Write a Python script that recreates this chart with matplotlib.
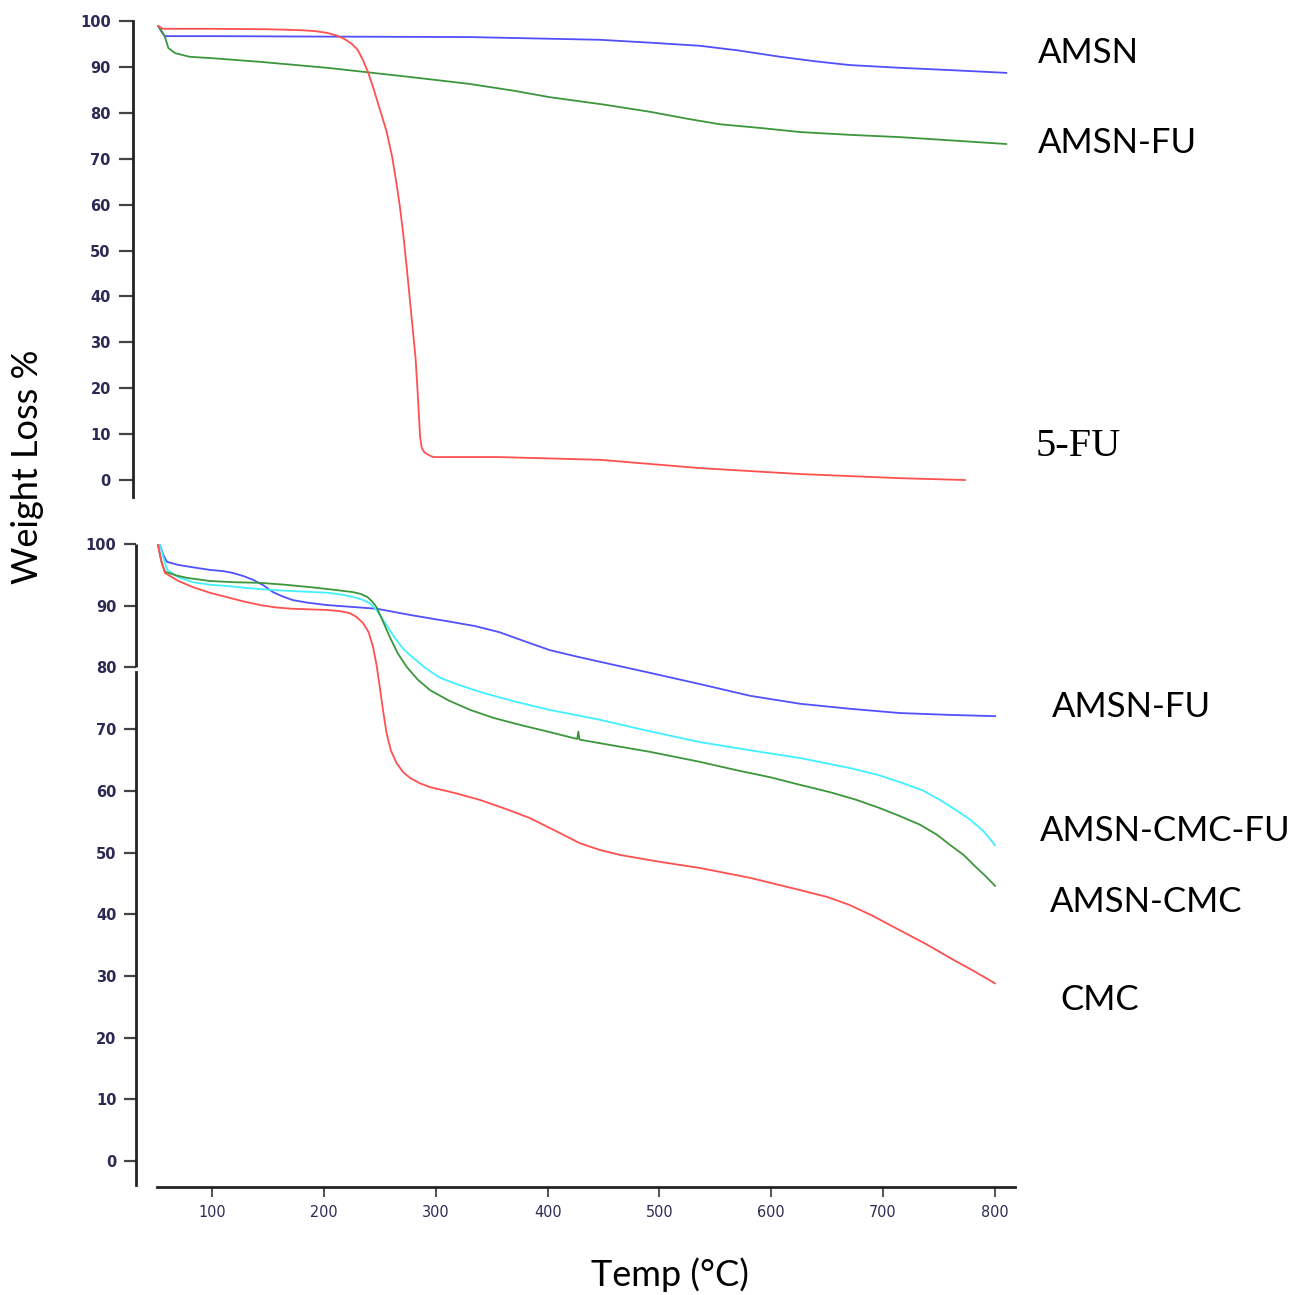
import matplotlib
matplotlib.use("Agg")
import matplotlib.pyplot as plt
from matplotlib import font_manager

# ---------------- data ----------------
top_amsn_T = [52, 55, 58, 100, 200, 330, 447, 490, 536, 570, 608, 640, 670, 715, 760, 810]
top_amsn_W = [98.9, 97.6, 96.7, 96.7, 96.6, 96.5, 95.9, 95.3, 94.6, 93.6, 92.2, 91.2, 90.4,
              89.8, 89.3, 88.7]

top_amsnfu_T = [52, 55, 58, 61, 67, 80, 100, 143, 203, 277, 330, 370, 402, 450, 492, 525,
                554, 590, 626, 670, 715, 760, 810]
top_amsnfu_W = [98.9, 97.8, 96.5, 94.1, 93.0, 92.2, 91.9, 91.1, 89.8, 87.8, 86.3, 84.8, 83.4,
                81.8, 80.2, 78.7, 77.5, 76.7, 75.8, 75.2, 74.7, 74.0, 73.2]

top_5fu_T = [52, 56, 100, 150, 179, 192, 203, 212, 219, 225, 230, 235, 240, 245, 250, 256,
             261, 265, 268, 271, 274, 277, 280, 282, 284, 286, 287.5, 290, 294, 298, 357,
             447, 536, 626, 715, 773]
top_5fu_W = [98.9, 98.3, 98.3, 98.2, 98.0, 97.8, 97.4, 96.8, 96.0, 95.0, 93.8, 91.5, 88.5,
             84.8, 80.8, 76.0, 70.5, 64.5, 59.5, 53.5, 46.5, 39.0, 31.5, 26.5, 18.5, 9.5,
             7.0, 6.0, 5.4, 5.0, 5.0, 4.4, 2.6, 1.3, 0.4, 0.0]

bot_amsnfu_T = [53.5, 56.5, 59.8, 70, 80, 98, 110, 118.8, 128, 136.7, 146, 154.5, 163,
                172.4, 185, 202.8, 225, 247.5, 277, 313, 335, 357, 380, 402, 425, 447,
                492, 536, 581, 626, 670, 715, 760, 800]
bot_amsnfu_W = [99.8, 98.2, 97.1, 96.6, 96.3, 95.8, 95.6, 95.3, 94.8, 94.2, 93.3, 92.2,
                91.5, 90.9, 90.5, 90.1, 89.8, 89.5, 88.5, 87.4, 86.7, 85.7, 84.2, 82.8,
                81.8, 80.9, 79.1, 77.3, 75.4, 74.1, 73.3, 72.6, 72.3, 72.1]

bot_amsncmc_T = [51.7, 55, 58, 68, 78, 98, 120, 143, 165, 188, 208, 226, 233, 239, 243,
                 247, 252, 259, 266, 274, 284, 295, 312, 331, 352, 375, 400, 426.5, 427.5,
                 428.5, 460, 492, 536, 570, 599, 625, 652, 675, 697, 715, 733, 748, 760,
                 772, 782, 792, 800]
bot_amsncmc_W = [99.8, 97, 95.5, 94.9, 94.5, 94.0, 93.8, 93.7, 93.4, 93.0, 92.6, 92.2,
                 91.9, 91.4, 90.7, 89.8, 87.8, 84.9, 82.3, 80.1, 78.0, 76.3, 74.6, 73.1,
                 71.8, 70.7, 69.6, 68.4, 69.6, 68.3, 67.3, 66.3, 64.7, 63.3, 62.2, 61.0,
                 59.8, 58.6, 57.2, 55.9, 54.5, 52.9, 51.2, 49.6, 47.8, 46.1, 44.6]

bot_amsncmcfu_T = [53.5, 57, 60, 70, 83, 98, 113, 135, 158, 180, 203, 216, 226, 234, 241,
                   247, 253, 259, 265, 271, 277, 290, 304, 320, 340, 370, 402, 425, 447,
                   490, 536, 580, 626, 670, 695, 715, 735, 751, 765, 778, 790, 800]
bot_amsncmcfu_W = [99.8, 97.5, 95.8, 94.6, 93.8, 93.4, 93.2, 92.8, 92.5, 92.3, 92.1, 91.8,
                   91.4, 91.0, 90.4, 89.3, 87.7, 86.0, 84.4, 83.0, 82.0, 80.0, 78.3, 77.2,
                   76.0, 74.5, 73.1, 72.3, 71.5, 69.7, 67.9, 66.6, 65.3, 63.7, 62.6, 61.4,
                   60.1, 58.5, 56.9, 55.3, 53.4, 51.2]

bot_cmc_T = [51.7, 55, 58, 70, 83, 98, 113, 128, 143, 158, 172, 188, 203, 215, 223, 229,
             235, 240, 244, 247, 250, 253, 256, 260, 265, 271, 277, 286, 295, 318, 340,
             362, 384, 405, 429, 447, 465, 500, 536, 581, 626, 650, 670, 690, 715, 738,
             760, 780, 800]
bot_cmc_W = [99.8, 97, 95.3, 94.0, 93.0, 92.1, 91.4, 90.7, 90.1, 89.7, 89.5, 89.4, 89.3,
             89.1, 88.8, 88.2, 87.2, 85.7, 83.3, 80.5, 76.8, 72.9, 69.4, 66.5, 64.5, 63.0,
             62.1, 61.2, 60.6, 59.6, 58.5, 57.1, 55.6, 53.7, 51.5, 50.4, 49.6, 48.5, 47.5,
             45.9, 43.9, 42.8, 41.5, 39.8, 37.4, 35.2, 32.9, 30.9, 28.8]

x_ticks = [100, 200, 300, 400, 500, 600, 700, 800]
y_ticks = [0, 10, 20, 30, 40, 50, 60, 70, 80, 90, 100]

# ---------------- style ----------------
W_PX, H_PX = 1296, 1295
fig = plt.figure(figsize=(W_PX / 100, H_PX / 100), dpi=100)

avail = {f.name for f in font_manager.fontManager.ttflist}
label_font = "Lato" if "Lato" in avail else "DejaVu Sans"

BLUE = "#5050ff"
RED = "#ff5050"
GREEN = "#3c963c"
CYAN = "#40f0ff"
SPINE = "#222222"
TICKC = "#2a2a55"
LW = 1.3

def px_to_fig(x, y):
    return x / W_PX, 1 - y / H_PX

# x scale: 100 C at 212 px, 800 C at 995 px
def px_to_T(x):
    return 100 + (x - 212) / 1.1186

x1 = px_to_T(1015)

# ---------- top axes ----------
top_b = 1 - 497 / H_PX
top_t = 1 - 16.4 / H_PX
ax1 = fig.add_axes([133 / W_PX, top_b, (1015 - 133) / W_PX, top_t - top_b])
ax1.plot(top_amsn_T, top_amsn_W, color=BLUE, lw=LW)
ax1.plot(top_amsnfu_T, top_amsnfu_W, color=GREEN, lw=LW)
ax1.plot(top_5fu_T, top_5fu_W, color=RED, lw=LW)
ax1.set_xlim(px_to_T(133), x1)
ax1.set_ylim(-3.7, 101)
for s in ["top", "right", "bottom"]:
    ax1.spines[s].set_visible(False)
ax1.spines["left"].set_bounds(-3.7, 100)
ax1.spines["left"].set_linewidth(2.0)
ax1.spines["left"].set_color(SPINE)
ax1.set_xticks([])
ax1.set_yticks(y_ticks)
ax1.set_yticklabels([str(v) for v in y_ticks], fontsize=10.5, fontweight="heavy",
                    color=TICKC, family="DejaVu Sans")
ax1.tick_params(axis="y", length=10, width=1.6, color="#444444", pad=6)
ax1.patch.set_alpha(0)

# ---------- bottom axes ----------
bot_b = 1 - 1187 / H_PX
bot_t = 1 - 537.8 / H_PX
ax2 = fig.add_axes([136 / W_PX, bot_b, (1015 - 136) / W_PX, bot_t - bot_b])
ax2.plot(bot_amsnfu_T, bot_amsnfu_W, color=BLUE, lw=LW)
ax2.plot(bot_amsncmcfu_T, bot_amsncmcfu_W, color=CYAN, lw=LW)
ax2.plot(bot_amsncmc_T, bot_amsncmc_W, color=GREEN, lw=LW)
ax2.plot(bot_cmc_T, bot_cmc_W, color=RED, lw=LW)
ax2.set_xlim(px_to_T(136), x1)
ax2.set_ylim(-4.2, 101)
for s in ["top", "right"]:
    ax2.spines[s].set_visible(False)
ax2.spines["left"].set_bounds(-3.9, 79.3)
ax2.spines["bottom"].set_bounds(px_to_T(157), x1)
for s in ["left", "bottom"]:
    ax2.spines[s].set_linewidth(2.0)
    ax2.spines[s].set_color(SPINE)
ax2.plot([0, 0], [80, 100], transform=ax2.get_yaxis_transform(), color=SPINE,
         lw=2.0, clip_on=False, solid_capstyle="butt")
ax2.set_yticks(y_ticks)
ax2.set_yticklabels([str(v) for v in y_ticks], fontsize=10.5, fontweight="bold",
                    color=TICKC, family="DejaVu Sans")
ax2.tick_params(axis="y", length=9, width=1.6, color="#444444", pad=5)
ax2.set_xticks(x_ticks)
ax2.set_xticklabels([str(v) for v in x_ticks], fontsize=11.5, color=TICKC,
                    family="DejaVu Sans", fontstretch="condensed")
ax2.tick_params(axis="x", length=7, width=1.3, color="#444444", pad=6)
ax2.patch.set_alpha(0)

# ---------- texts ----------
lab = dict(family=label_font, fontsize=25, color="black", va="center", ha="left")
fig.text(*px_to_fig(1038, 53), "AMSN", **lab)
fig.text(*px_to_fig(1038, 143), "AMSN-FU", **lab)
fig.text(*px_to_fig(1036, 447), "5-FU", family="Liberation Serif", fontsize=29,
         color="black", va="center", ha="left")
fig.text(*px_to_fig(1052, 707), "AMSN-FU", **lab)
fig.text(*px_to_fig(1040, 831), "AMSN-CMC-FU", **lab)
fig.text(*px_to_fig(1050, 902), "AMSN-CMC", **lab)
fig.text(*px_to_fig(1060, 1000), "CMC", **lab)

fig.text(*px_to_fig(28, 467), "Weight Loss %", family=label_font, fontsize=26,
         rotation=90, va="center", ha="center")
fig.text(*px_to_fig(670, 1275), "Temp (°C)", family=label_font, fontsize=26,
         va="center", ha="center")

fig.savefig("out.png", dpi=100)
